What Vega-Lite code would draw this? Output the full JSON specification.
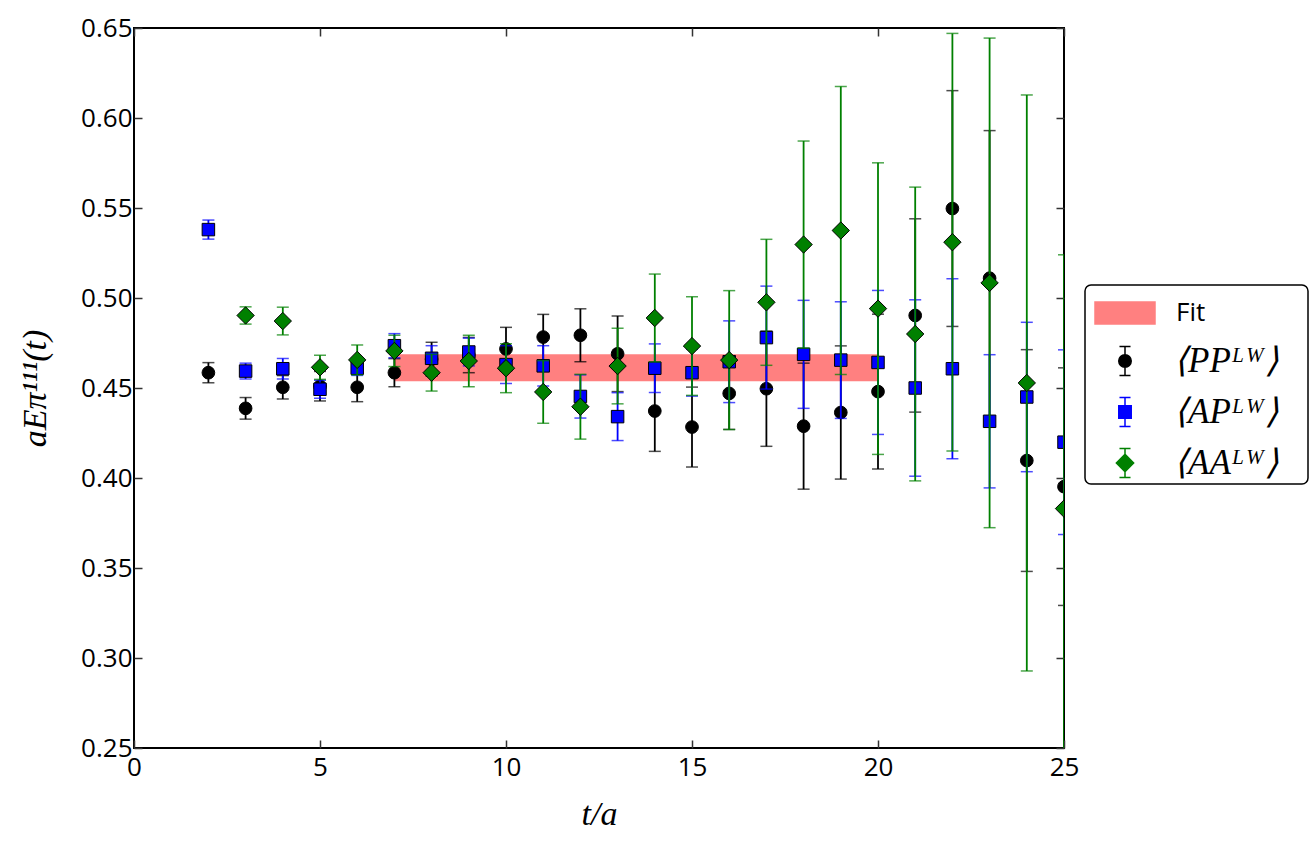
{
  "$schema": "https://vega.github.io/schema/vega-lite/v6.json",
  "width": 930,
  "height": 720,
  "autosize": {"type": "none"},
  "padding": {"left": 134, "top": 28, "right": 252, "bottom": 103},
  "background": "white",
  "config": {
    "view": {"stroke": "black", "strokeWidth": 2},
    "axis": {
      "grid": false,
      "domain": false,
      "labelFlush": false,
      "tickColor": "#333333",
      "tickWidth": 1.5,
      "tickSize": -8,
      "labelFont": "Open Sans",
      "labelFontSize": 26,
      "labelColor": "black",
      "titleFont": "Liberation Serif",
      "titleFontStyle": "italic",
      "titleFontWeight": "normal",
      "titleFontSize": 34,
      "titleColor": "black"
    }
  },
  "datasets": {
    "fit": [
      {"series": "Fit", "t0": 7, "t1": 20, "lo": 0.4537, "hi": 0.4687}
    ],
    "pts": [
      {"series": "PP", "t": 2, "v": 0.4585, "lo": 0.4529, "hi": 0.4641},
      {"series": "PP", "t": 3, "v": 0.4387, "lo": 0.4327, "hi": 0.4447},
      {"series": "PP", "t": 4, "v": 0.4504, "lo": 0.4439, "hi": 0.4569},
      {"series": "PP", "t": 5, "v": 0.451, "lo": 0.4428, "hi": 0.4592},
      {"series": "PP", "t": 6, "v": 0.4504, "lo": 0.4424, "hi": 0.4584},
      {"series": "PP", "t": 7, "v": 0.4585, "lo": 0.4507, "hi": 0.4663},
      {"series": "PP", "t": 8, "v": 0.466, "lo": 0.4566, "hi": 0.4754},
      {"series": "PP", "t": 9, "v": 0.4683, "lo": 0.4585, "hi": 0.4781},
      {"series": "PP", "t": 10, "v": 0.4717, "lo": 0.4597, "hi": 0.4837},
      {"series": "PP", "t": 11, "v": 0.4783, "lo": 0.4657, "hi": 0.4909},
      {"series": "PP", "t": 12, "v": 0.4793, "lo": 0.4646, "hi": 0.494},
      {"series": "PP", "t": 13, "v": 0.469, "lo": 0.448, "hi": 0.49},
      {"series": "PP", "t": 14, "v": 0.4372, "lo": 0.4148, "hi": 0.4596},
      {"series": "PP", "t": 15, "v": 0.4283, "lo": 0.4061, "hi": 0.4505},
      {"series": "PP", "t": 16, "v": 0.447, "lo": 0.427, "hi": 0.467},
      {"series": "PP", "t": 17, "v": 0.4496, "lo": 0.4176, "hi": 0.4816},
      {"series": "PP", "t": 18, "v": 0.4288, "lo": 0.3938, "hi": 0.4638},
      {"series": "PP", "t": 19, "v": 0.4364, "lo": 0.3994, "hi": 0.4734},
      {"series": "PP", "t": 20, "v": 0.448, "lo": 0.405, "hi": 0.491},
      {"series": "PP", "t": 21, "v": 0.4903, "lo": 0.4366, "hi": 0.544},
      {"series": "PP", "t": 22, "v": 0.5497, "lo": 0.4842, "hi": 0.6152},
      {"series": "PP", "t": 23, "v": 0.511, "lo": 0.429, "hi": 0.593},
      {"series": "PP", "t": 24, "v": 0.4097, "lo": 0.3481, "hi": 0.4713},
      {"series": "PP", "t": 25, "v": 0.3952, "lo": 0.3292, "hi": 0.4612},
      {"series": "AP", "t": 2, "v": 0.538, "lo": 0.5327, "hi": 0.5433},
      {"series": "AP", "t": 3, "v": 0.4594, "lo": 0.455, "hi": 0.4638},
      {"series": "AP", "t": 4, "v": 0.4607, "lo": 0.455, "hi": 0.4664},
      {"series": "AP", "t": 5, "v": 0.4493, "lo": 0.4443, "hi": 0.4543},
      {"series": "AP", "t": 6, "v": 0.461, "lo": 0.457, "hi": 0.465},
      {"series": "AP", "t": 7, "v": 0.4735, "lo": 0.4668, "hi": 0.4802},
      {"series": "AP", "t": 8, "v": 0.4665, "lo": 0.4595, "hi": 0.4735},
      {"series": "AP", "t": 9, "v": 0.47, "lo": 0.4623, "hi": 0.4777},
      {"series": "AP", "t": 10, "v": 0.463, "lo": 0.4525, "hi": 0.4735},
      {"series": "AP", "t": 11, "v": 0.4623, "lo": 0.4511, "hi": 0.4735},
      {"series": "AP", "t": 12, "v": 0.4453, "lo": 0.4333, "hi": 0.4573},
      {"series": "AP", "t": 13, "v": 0.4341, "lo": 0.4208, "hi": 0.4474},
      {"series": "AP", "t": 14, "v": 0.461, "lo": 0.4475, "hi": 0.4745},
      {"series": "AP", "t": 15, "v": 0.4585, "lo": 0.4455, "hi": 0.4715},
      {"series": "AP", "t": 16, "v": 0.4646, "lo": 0.4419, "hi": 0.4873},
      {"series": "AP", "t": 17, "v": 0.478, "lo": 0.4494, "hi": 0.5066},
      {"series": "AP", "t": 18, "v": 0.4687, "lo": 0.4387, "hi": 0.4987},
      {"series": "AP", "t": 19, "v": 0.4655, "lo": 0.4331, "hi": 0.4979},
      {"series": "AP", "t": 20, "v": 0.4642, "lo": 0.4242, "hi": 0.5042},
      {"series": "AP", "t": 21, "v": 0.45, "lo": 0.401, "hi": 0.499},
      {"series": "AP", "t": 22, "v": 0.4607, "lo": 0.4107, "hi": 0.5107},
      {"series": "AP", "t": 23, "v": 0.4315, "lo": 0.3945, "hi": 0.4685},
      {"series": "AP", "t": 24, "v": 0.445, "lo": 0.4035, "hi": 0.4865},
      {"series": "AP", "t": 25, "v": 0.4199, "lo": 0.3686, "hi": 0.4712},
      {"series": "AA", "t": 3, "v": 0.4903, "lo": 0.4855, "hi": 0.4951},
      {"series": "AA", "t": 4, "v": 0.4872, "lo": 0.4795, "hi": 0.4949},
      {"series": "AA", "t": 5, "v": 0.4615, "lo": 0.4548, "hi": 0.4682},
      {"series": "AA", "t": 6, "v": 0.4656, "lo": 0.4573, "hi": 0.4739},
      {"series": "AA", "t": 7, "v": 0.4706, "lo": 0.4619, "hi": 0.4793},
      {"series": "AA", "t": 8, "v": 0.4585, "lo": 0.4483, "hi": 0.4687},
      {"series": "AA", "t": 9, "v": 0.465, "lo": 0.4507, "hi": 0.4793},
      {"series": "AA", "t": 10, "v": 0.461, "lo": 0.4474, "hi": 0.4746},
      {"series": "AA", "t": 11, "v": 0.4478, "lo": 0.4304, "hi": 0.4652},
      {"series": "AA", "t": 12, "v": 0.4396, "lo": 0.4216, "hi": 0.4576},
      {"series": "AA", "t": 13, "v": 0.4622, "lo": 0.4412, "hi": 0.4832},
      {"series": "AA", "t": 14, "v": 0.4889, "lo": 0.4645, "hi": 0.5133},
      {"series": "AA", "t": 15, "v": 0.4733, "lo": 0.4459, "hi": 0.5007},
      {"series": "AA", "t": 16, "v": 0.4655, "lo": 0.4269, "hi": 0.5041},
      {"series": "AA", "t": 17, "v": 0.4976, "lo": 0.4626, "hi": 0.5326},
      {"series": "AA", "t": 18, "v": 0.5297, "lo": 0.4722, "hi": 0.5872},
      {"series": "AA", "t": 19, "v": 0.5375, "lo": 0.4575, "hi": 0.6175},
      {"series": "AA", "t": 20, "v": 0.4941, "lo": 0.4131, "hi": 0.5751},
      {"series": "AA", "t": 21, "v": 0.48, "lo": 0.3984, "hi": 0.5616},
      {"series": "AA", "t": 22, "v": 0.531, "lo": 0.415, "hi": 0.647},
      {"series": "AA", "t": 23, "v": 0.5084, "lo": 0.3724, "hi": 0.6444},
      {"series": "AA", "t": 24, "v": 0.4528, "lo": 0.2928, "hi": 0.6128},
      {"series": "AA", "t": 25, "v": 0.383, "lo": 0.242, "hi": 0.524}
    ]
  },
  "resolve": {"axis": {"x": "independent", "y": "independent"}},
  "layer": [
    {
      "data": {"name": "fit"},
      "mark": {"type": "rect", "clip": true},
      "encoding": {
        "x": {
          "field": "t0", "type": "quantitative",
          "scale": {"domain": [0, 25], "nice": false, "zero": false},
          "axis": {"orient": "top", "labels": false, "title": null, "values": [0, 5, 10, 15, 20, 25]}
        },
        "x2": {"field": "t1"},
        "y": {
          "field": "lo", "type": "quantitative",
          "scale": {"domain": [0.25, 0.65], "nice": false, "zero": false},
          "axis": {"orient": "right", "labels": false, "title": null, "values": [0.25, 0.3, 0.35, 0.4, 0.45, 0.5, 0.55, 0.6, 0.65]}
        },
        "y2": {"field": "hi"},
        "color": {
          "field": "series", "type": "nominal",
          "scale": {"domain": ["Fit", "PP", "AP", "AA"], "range": ["#ff8080", "#000000", "#0000ff", "#008000"]},
          "legend": {
            "orient": "none",
            "legendX": 951,
            "legendY": 257,
            "title": null,
            "strokeColor": "black",
            "fillColor": "white",
            "cornerRadius": 6,
            "padding": 3,
            "rowPadding": 8,
            "symbolSize": 2304,
            "symbolOffset": 12,
            "labelOffset": 38,
            "labelFont": "Liberation Serif",
            "labelFontSize": 35,
            "labelColor": "black",
            "labelLimit": 300,
            "labelExpr": "datum.value === 'PP' ? '⟨PPᴸᵂ⟩\u2800' : datum.value === 'AP' ? '⟨APᴸᵂ⟩\u2800' : datum.value === 'AA' ? '⟨AAᴸᵂ⟩\u2800' : 'Fit'",
            "encode": {
              "legend": {"update": {"strokeWidth": {"value": 1.5}}},
              "symbols": {
                "update": {
                  "shape": {"signal": "datum.value === 'Fit' ? 'M-1.25,-0.46H1.25V0.46H-1.25Z' : datum.value === 'PP' ? 'M0,-0.6V0.6M-0.23,-0.6H0.23M-0.23,0.6H0.23M-0.26,0A0.26,0.26 0 1,0 0.26,0A0.26,0.26 0 1,0 -0.26,0Z' : datum.value === 'AP' ? 'M0,-0.6V0.6M-0.23,-0.6H0.23M-0.23,0.6H0.23M-0.26,-0.26H0.26V0.26H-0.26Z' : 'M0,-0.6V0.6M-0.23,-0.6H0.23M-0.23,0.6H0.23M0,-0.36L0.36,0L0,0.36L-0.36,0Z'"},
                  "fill": {"signal": "datum.value === 'Fit' ? '#ff8080' : datum.value === 'PP' ? '#000000' : datum.value === 'AP' ? '#0000ff' : '#008000'"},
                  "stroke": {"signal": "datum.value === 'Fit' ? 'transparent' : datum.value === 'PP' ? '#000000' : datum.value === 'AP' ? '#0000ff' : '#008000'"},
                  "strokeWidth": {"value": 1.5},
                  "opacity": {"value": 1},
                  "fillOpacity": {"value": 1},
                  "strokeOpacity": {"value": 1}
                }
              },
              "labels": {
                "update": {
                  "font": {"signal": "datum.value === 'Fit' ? 'Open Sans' : 'Liberation Serif'"},
                  "fontStyle": {"signal": "datum.value === 'Fit' ? 'normal' : 'italic'"},
                  "fontSize": {"signal": "datum.value === 'Fit' ? 26 : 35"},
                  "dx": {"signal": "datum.value === 'Fit' ? -12 : -14"}
                }
              }
            }
          }
        }
      }
    },
    {
      "data": {"name": "pts"},
      "encoding": {
        "x": {
          "field": "t", "type": "quantitative",
          "scale": {"domain": [0, 25], "nice": false, "zero": false},
          "axis": {"orient": "bottom", "title": "t/a", "values": [0, 5, 10, 15, 20, 25], "format": "d", "labelPadding": 14, "titlePadding": 17}
        },
        "color": {"field": "series", "type": "nominal"}
      },
      "layer": [
        {
          "transform": [{"filter": "datum.series === 'PP'"}],
          "mark": {"type": "errorbar", "ticks": {"size": 12, "thickness": 1.5}, "rule": {"strokeWidth": 1.8}, "clip": true},
          "encoding": {
            "y": {
              "field": "lo", "type": "quantitative", "title": "aEπ¹¹¹(t)",
              "scale": {"domain": [0.25, 0.65], "nice": false, "zero": false},
              "axis": {"orient": "left", "title": "aEπ¹¹¹(t)", "values": [0.25, 0.3, 0.35, 0.4, 0.45, 0.5, 0.55, 0.6, 0.65], "format": ".2f", "labelPadding": 10, "titlePadding": 28}
            },
            "y2": {"field": "hi"}
          }
        },
        {
          "transform": [{"filter": "datum.series === 'PP'"}],
          "mark": {"type": "point", "filled": true, "shape": "circle", "size": 161, "stroke": "#000000", "strokeWidth": 1, "opacity": 1, "clip": true},
          "encoding": {"y": {"field": "v", "type": "quantitative", "title": "aEπ¹¹¹(t)"}}
        },
        {
          "transform": [{"filter": "datum.series === 'AP'"}],
          "mark": {"type": "errorbar", "ticks": {"size": 12, "thickness": 1.5}, "rule": {"strokeWidth": 1.8}, "clip": true},
          "encoding": {"y": {"field": "lo", "type": "quantitative", "title": "aEπ¹¹¹(t)"}, "y2": {"field": "hi"}}
        },
        {
          "transform": [{"filter": "datum.series === 'AP'"}],
          "mark": {"type": "point", "filled": true, "shape": "square", "size": 156, "stroke": "#000000", "strokeWidth": 1, "opacity": 1, "clip": true},
          "encoding": {"y": {"field": "v", "type": "quantitative", "title": "aEπ¹¹¹(t)"}}
        },
        {
          "transform": [{"filter": "datum.series === 'AA'"}],
          "mark": {"type": "errorbar", "ticks": {"size": 12, "thickness": 1.5}, "rule": {"strokeWidth": 1.8}, "clip": true},
          "encoding": {"y": {"field": "lo", "type": "quantitative", "title": "aEπ¹¹¹(t)"}, "y2": {"field": "hi"}}
        },
        {
          "transform": [{"filter": "datum.series === 'AA'"}],
          "mark": {"type": "point", "filled": true, "shape": "diamond", "size": 300, "stroke": "#000000", "strokeWidth": 1, "opacity": 1, "clip": true},
          "encoding": {"y": {"field": "v", "type": "quantitative", "title": "aEπ¹¹¹(t)"}}
        }
      ]
    }
  ]
}
